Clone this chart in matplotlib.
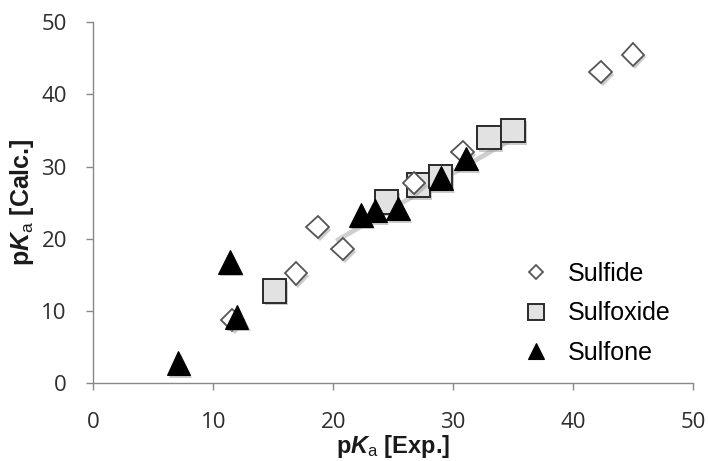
import matplotlib
matplotlib.use("Agg")
import matplotlib.pyplot as plt
import matplotlib.patheffects as pe

# ── data
sulfide_exp = [11.6, 16.9, 18.7, 20.8, 26.75, 30.8, 42.3, 45.0]
sulfide_calc = [8.75, 15.2, 21.6, 18.6, 27.7, 32.0, 43.1, 45.5]

sulfoxide_exp = [15.1, 24.45, 27.1, 28.95, 33.0, 35.0]
sulfoxide_calc = [12.8, 25.1, 27.4, 28.6, 34.0, 35.0]

sulfone_exp = [7.1, 11.4, 11.95, 22.3, 23.5, 25.4, 29.0, 31.05]
sulfone_calc = [2.8, 16.8, 9.2, 23.3, 23.9, 24.2, 28.4, 31.1]

trend_x = [20.0, 35.0]
trend_y = [20.4, 34.8]

ticks = [0, 10, 20, 30, 40, 50]

plt.rcParams["font.family"] = ["Liberation Sans", "DejaVu Sans"]
plt.rcParams["mathtext.fontset"] = "custom"
plt.rcParams["mathtext.rm"] = "Liberation Sans"
plt.rcParams["mathtext.it"] = "Liberation Sans:italic:bold"
plt.rcParams["mathtext.bf"] = "Liberation Sans:bold"

W, H = 708, 461
fig = plt.figure(figsize=(W / 100, H / 100), dpi=100)
ax = fig.add_axes([0.1318, 0.1686, 0.8470, 0.7837])

shadow = [pe.SimplePatchShadow(offset=(1.5, -2.0), shadow_rgbFace="#9a9a9a", alpha=0.5),
          pe.Normal()]

# trend line: white with soft shadow
ax.plot(trend_x, trend_y, color="white", linewidth=5, solid_capstyle="butt", zorder=1,
        path_effects=[pe.SimpleLineShadow(offset=(1.5, -2.5), shadow_color="#b0b0b0",
                                          alpha=0.6, linewidth=6), pe.Normal()])

ax.plot(sulfoxide_exp, sulfoxide_calc, linestyle="none", marker="s", markersize=17,
        markerfacecolor="#e2e2e2", markeredgecolor="#2a2a2a", markeredgewidth=1.4,
        label="Sulfoxide", zorder=2, path_effects=shadow)
ax.plot(sulfide_exp, sulfide_calc, linestyle="none", marker="D", markersize=11.5,
        markerfacecolor="white", markeredgecolor="#555555", markeredgewidth=1.3,
        label="Sulfide", zorder=3, path_effects=shadow)
ax.plot(sulfone_exp, sulfone_calc, linestyle="none", marker="^", markersize=17,
        markerfacecolor="black", markeredgecolor="black", markeredgewidth=0.8,
        label="Sulfone", zorder=4, path_effects=shadow)

ax.set_xlim(0, 50)
ax.set_ylim(0, 50)
ax.set_xticks(ticks)
ax.set_yticks(ticks)
ax.tick_params(direction="out", length=5, width=1, color="#888888",
               labelsize=16, labelcolor="#2e2e2e")
ax.tick_params(axis="y", pad=14)
ax.tick_params(axis="x", pad=16)
for lbl in ax.get_xticklabels() + ax.get_yticklabels():
    lbl.set_fontfamily(["Open Sans", "DejaVu Sans"])

for side in ["top", "right"]:
    ax.spines[side].set_visible(False)
for side in ["left", "bottom"]:
    ax.spines[side].set_color("#888888")
    ax.spines[side].set_linewidth(1)

ax.set_xlabel(r"p$\mathit{K}_{\mathrm{a}}$ [Exp.]", fontsize=17, fontweight="bold",
              color="#1a1a1a", labelpad=0)
ax.set_ylabel(r"p$\mathit{K}_{\mathrm{a}}$ [Calc.]", fontsize=18, fontweight="bold",
              color="#1a1a1a", labelpad=4)

handles, labels = ax.get_legend_handles_labels()
order = [1, 0, 2]
leg = fig.legend([handles[i] for i in order], [labels[i] for i in order],
                 loc="upper left", bbox_to_anchor=(523.5 / W, 1 - 262 / H),
                 borderaxespad=0, borderpad=0, frameon=False,
                 markerscale=0.65, handlelength=1.0, handletextpad=0.78,
                 labelspacing=0.62, prop={"family": "Liberation Sans", "size": 18})
for h in leg.legend_handles:
    h.set_path_effects([])

fig.savefig("out.png", dpi=100)
